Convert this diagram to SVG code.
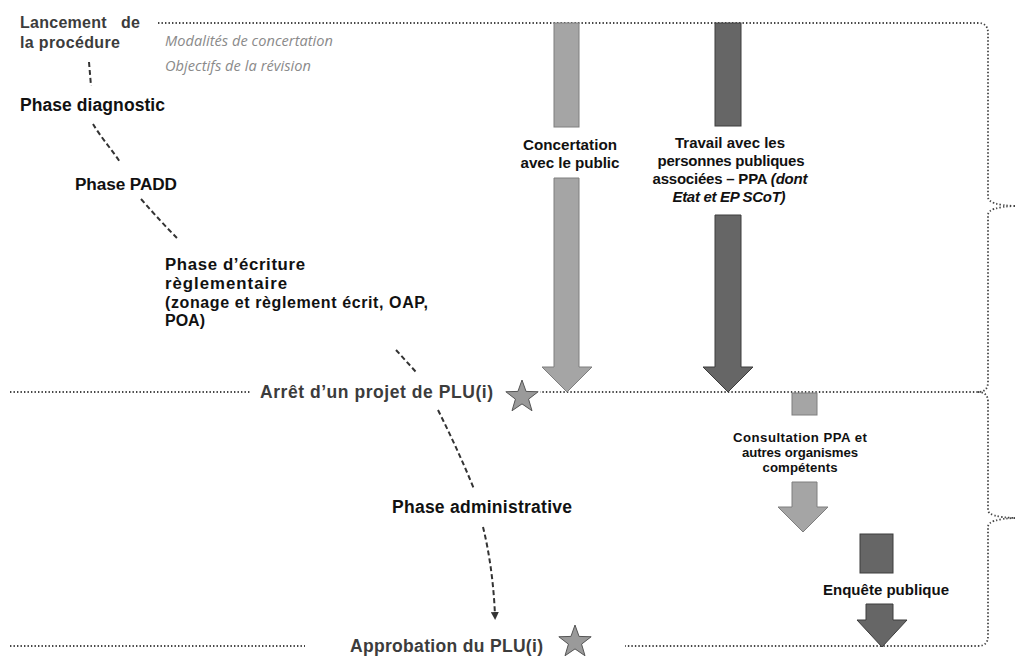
<svg xmlns="http://www.w3.org/2000/svg" width="1015" height="657" viewBox="0 0 1015 657">
<style>
  .dot { fill: none; stroke: #444; stroke-width: 1.8; stroke-dasharray: 1.4 2.1; }
  .dash { fill: none; stroke: #333; stroke-width: 2; stroke-dasharray: 5 3; }
  .phase { font-family: "Liberation Sans", Arial, sans-serif; font-weight: 700; fill: #111; }
  .mile { font-family: "Liberation Sans", Arial, sans-serif; font-weight: 700; fill: #3c3c3c; }
  .note { font-family: "Open Sans", "Liberation Sans", sans-serif; font-style: italic; fill: #8a8a8a; font-size: 14.6px; }
  .lbl { font-family: "Liberation Sans", Arial, sans-serif; font-weight: 700; fill: #111; text-anchor: middle; }
  .light { fill: #a5a5a5; stroke: #7e7e7e; stroke-width: 1; }
  .dark { fill: #666; stroke: #3c3c3c; stroke-width: 1; }
  .star { fill: #9a9a9a; stroke: #555; stroke-width: 1; }
</style>
<defs>
  <path id="starShape" d="M0,-17 L4.06,-5.59 L16.17,-5.25 L6.57,2.14 L9.99,13.75 L0,6.9 L-9.99,13.75 L-6.57,2.14 L-16.17,-5.25 L-4.06,-5.59 Z"/>
  <marker id="ah" markerWidth="8" markerHeight="8" refX="4" refY="4" orient="auto" markerUnits="userSpaceOnUse">
    <path d="M0,0 L8,4 L0,8 Z" fill="#333"/>
  </marker>
</defs>

<g id="connectors">
  <path class="dot" d="M158,23 H978 Q988,23 988,33 V197 Q988,205 1015,206 M1015,206 Q988,207 988,215 V382 Q988,392 978,392 H540"/>
  <path class="dot" d="M10,392 H250"/>
  <path class="dot" d="M978,392 Q988,392 988,402 V510 Q988,517 1015,518 M1015,518 Q988,519 988,527 V636 Q988,646 978,646 H625"/>
  <path class="dot" d="M10,646 H305"/>
  <path class="dash" d="M89,62 L91,86"/>
  <path class="dash" d="M93,124 C100,136 112,150 120,162"/>
  <path class="dash" d="M141,199 C155,215 167,228 177,238"/>
  <path class="dash" d="M396,350 L416,372"/>
  <path class="dash" d="M438,410 C451,436 463,462 474,489"/>
  <path class="dash" d="M483,527 C490,555 494,588 495,616" marker-end="url(#ah)"/>
</g>

<g id="lancement">
  <text class="mile" font-size="16" x="20" y="28" textLength="120" xml:space="preserve">Lancement   de</text>
  <text class="mile" font-size="16" x="20" y="48" textLength="100">la procédure</text>
</g>
<g id="notes">
  <text class="note" x="165" y="46" textLength="168">Modalités de concertation</text>
  <text class="note" x="165" y="71" textLength="146">Objectifs de la révision</text>
</g>
<g id="phase-diagnostic">
  <text class="phase" font-size="17.5" x="20" y="111" textLength="145">Phase diagnostic</text>
</g>
<g id="phase-padd">
  <text class="phase" font-size="17.2" x="75" y="190" textLength="102">Phase PADD</text>
</g>
<g id="phase-ecriture">
  <text class="phase" font-size="16.8" x="165" y="270" textLength="140">Phase d’écriture</text>
  <text class="phase" font-size="16.8" x="165" y="289" textLength="122">règlementaire</text>
  <text class="phase" font-size="16" x="165" y="308" textLength="263">(zonage et règlement écrit, OAP,</text>
  <text class="phase" font-size="16" x="165" y="326" textLength="40">POA)</text>
</g>
<g id="arret">
  <text class="mile" font-size="17.5" x="260" y="398" textLength="233">Arrêt d’un projet de PLU(i)</text>
  <use href="#starShape" class="star" transform="translate(522,397)"/>
</g>
<g id="phase-admin">
  <text class="phase" font-size="17.5" x="392" y="513" textLength="180">Phase administrative</text>
</g>
<g id="approbation">
  <text class="mile" font-size="17.5" x="350" y="652" textLength="193">Approbation du PLU(i)</text>
  <use href="#starShape" class="star" transform="translate(575,642)"/>
</g>

<g id="concertation">
  <rect class="light" x="554" y="23" width="25" height="104"/>
  <polygon class="light" points="554,178 579,178 579,367 592,367 567,392 542,367 554,367"/>
  <text class="lbl" font-size="15.2" x="570" y="150" textLength="94">Concertation</text>
  <text class="lbl" font-size="15.2" x="570" y="168" textLength="99">avec le public</text>
</g>
<g id="travail-ppa">
  <rect class="dark" x="715" y="23" width="26" height="103"/>
  <polygon class="dark" points="715,215 741,215 741,367 753,367 728,392 703,367 715,367"/>
  <text class="lbl" font-size="15" x="730" y="148" textLength="110">Travail avec les</text>
  <text class="lbl" font-size="15" x="731" y="166" textLength="147">personnes publiques</text>
  <text class="lbl" font-size="15" x="730" y="184" textLength="155">associées – PPA <tspan font-style="italic">(dont</tspan></text>
  <text class="lbl" font-size="15" x="729" y="202" textLength="113" font-style="italic">Etat et EP SCoT)</text>
</g>
<g id="consultation">
  <rect class="light" x="792" y="393" width="25" height="22"/>
  <polygon class="light" points="792,482 817,482 817,507 828,507 803,532 778,507 792,507"/>
  <text class="lbl" font-size="13.2" x="800" y="442" textLength="134">Consultation PPA et</text>
  <text class="lbl" font-size="13.2" x="800" y="457" textLength="116">autres organismes</text>
  <text class="lbl" font-size="13.2" x="800" y="472" textLength="75">compétents</text>
</g>
<g id="enquete">
  <rect class="dark" x="860" y="534" width="33" height="39"/>
  <polygon class="dark" points="866,604 893,604 893,620 907,620 882,647 857,620 866,620"/>
  <text class="lbl" font-size="15" x="886" y="595" textLength="126">Enquête publique</text>
</g>
</svg>
